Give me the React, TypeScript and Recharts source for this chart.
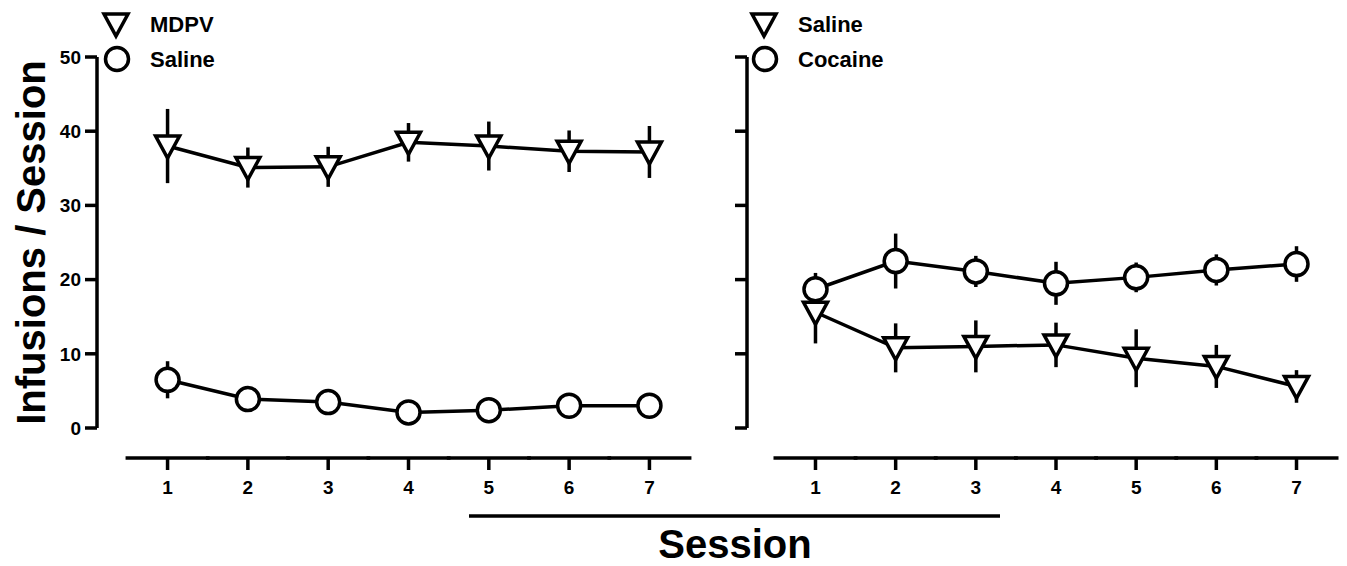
import { ErrorBar, Legend, Line, LineChart, XAxis, YAxis } from "recharts";

const FONT = '"Liberation Sans", Arial, Helvetica, sans-serif';
const INK = "#000";
const SW = 3.5;

// sessions on the x axis
const sessions = [1, 2, 3, 4, 5, 6, 7];
const sessionTicks = [1, 2, 3, 4, 5, 6, 7];
const yTicks = [0, 10, 20, 30, 40, 50];

// left panel: MDPV vs saline (mean, SEM)
const mdpvMean = [38.0, 35.1, 35.2, 38.5, 38.0, 37.3, 37.2];
const mdpvSem = [5.0, 2.7, 2.7, 2.6, 3.3, 2.8, 3.5];
const salineLeftMean = [6.5, 3.9, 3.5, 2.1, 2.4, 3.0, 3.0];
const salineLeftSem = [2.5, 0.8, 0.8, 0.6, 0.7, 0.7, 0.6];

// right panel: saline vs cocaine
const salineRightMean = [15.6, 10.8, 11.0, 11.2, 9.4, 8.3, 5.6];
const salineRightSem = [4.2, 3.3, 3.5, 3.0, 3.9, 2.9, 2.2];
const cocaineMean = [18.7, 22.5, 21.1, 19.5, 20.3, 21.3, 22.1];
const cocaineSem = [2.2, 3.7, 2.1, 2.9, 2.0, 2.1, 2.4];

const leftData = sessions.map((s, i) => ({
  session: s,
  tri: mdpvMean[i],
  triErr: mdpvSem[i],
  circ: salineLeftMean[i],
  circErr: salineLeftSem[i],
}));

const rightData = sessions.map((s, i) => ({
  session: s,
  tri: salineRightMean[i],
  triErr: salineRightSem[i],
  circ: cocaineMean[i],
  circErr: cocaineSem[i],
}));

function Tri({ cx, cy }: { cx: number; cy: number }) {
  return (
    <path
      d={`M${cx - 12},${cy - 10}L${cx + 12},${cy - 10}L${cx},${cy + 12}Z`}
      fill="#fff"
      stroke={INK}
      strokeWidth={SW}
    />
  );
}

function Circ({ cx, cy }: { cx: number; cy: number }) {
  return <circle cx={cx} cy={cy} r={11.5} fill="#fff" stroke={INK} strokeWidth={SW} />;
}

const triDot = (p: any) =>
  p.cx == null ? <g key={`t${p.index}`} /> : <Tri key={`t${p.index}`} cx={p.cx} cy={p.cy} />;
const circDot = (p: any) =>
  p.cx == null ? <g key={`c${p.index}`} /> : <Circ key={`c${p.index}`} cx={p.cx} cy={p.cy} />;

// offset x axis (Prism style): line + tick + label drawn per tick
function SessionTick(props: any) {
  const { x, y, payload } = props;
  return (
    <g>
      <line x1={x - 42} x2={x + 42} y1={y + 30} y2={y + 30} stroke={INK} strokeWidth={SW} />
      <line x1={x} x2={x} y1={y + 30} y2={y + 42} stroke={INK} strokeWidth={SW} />
      <text
        x={x}
        y={y + 66}
        textAnchor="middle"
        fontFamily={FONT}
        fontWeight="bold"
        fontSize={19}
        fill={INK}
      >
        {payload.value}
      </text>
    </g>
  );
}

function CountTick(props: any) {
  const { x, y, payload, show } = props;
  if (!show) return <g />;
  return (
    <text
      x={x}
      y={y}
      dy="0.36em"
      textAnchor="end"
      fontFamily={FONT}
      fontWeight="bold"
      fontSize={19}
      fill={INK}
    >
      {payload.value}
    </text>
  );
}

const legendOrder = ["tri", "circ"];

function PanelLegend(props: any) {
  const items = [...(props.payload || [])].sort(
    (a: any, b: any) => legendOrder.indexOf(a.dataKey) - legendOrder.indexOf(b.dataKey)
  );
  return (
    <svg width={220} height={80} style={{ overflow: "visible" }}>
      {items.map((it: any, i: number) => {
        const cy = 20 + i * 35;
        return (
          <g key={it.dataKey}>
            {it.dataKey === "tri" ? <Tri cx={20} cy={cy} /> : <Circ cx={21} cy={cy} />}
            <text
              x={54}
              y={cy + 8}
              fontFamily={FONT}
              fontWeight="bold"
              fontSize={22}
              fill={INK}
            >
              {it.value}
            </text>
          </g>
        );
      })}
    </svg>
  );
}

function Panel({
  data,
  triName,
  circName,
  width,
  yWidth,
  padLeft,
  right,
  showYLabels,
  legendLeft,
}: {
  data: typeof leftData;
  triName: string;
  circName: string;
  width: number;
  yWidth: number;
  padLeft: number;
  right: number;
  showYLabels: boolean;
  legendLeft: number;
}) {
  return (
    <LineChart
      width={width}
      height={566}
      data={data}
      margin={{ top: 57, right, bottom: 58, left: 0 }}
    >
      <XAxis
        dataKey="session"
        type="number"
        domain={[0.47, 7.53]}
        ticks={sessionTicks}
        interval={0}
        allowDataOverflow
        axisLine={false}
        tickLine={false}
        tickSize={0}
        tickMargin={0}
        height={80}
        padding={{ left: padLeft, right: 0 }}
        tick={<SessionTick />}
      />
      <YAxis
        type="number"
        domain={[0, 50]}
        ticks={yTicks}
        interval={0}
        allowDataOverflow
        tickSize={12}
        tickMargin={4}
        axisLine={{ stroke: INK, strokeWidth: SW }}
        tickLine={{ stroke: INK, strokeWidth: SW }}
        width={yWidth}
        tick={<CountTick show={showYLabels} />}
        label={
          showYLabels
            ? {
                content: (p: any) => {
                  const vb = p.viewBox || { x: 0, y: 57, height: 371 };
                  const cy = vb.y + vb.height / 2;
                  const x = vb.x + 45;
                  return (
                    <text
                      x={x}
                      y={cy}
                      transform={`rotate(-90, ${x}, ${cy})`}
                      textAnchor="middle"
                      fontFamily={FONT}
                      fontWeight="bold"
                      fontSize={40}
                      fill={INK}
                    >
                      Infusions / Session
                    </text>
                  );
                },
              }
            : undefined
        }
      />
      <Legend
        layout="horizontal"
        verticalAlign="middle"
        align="center"
        wrapperStyle={{ left: legendLeft, top: 4, width: 220, height: 80 }}
        content={<PanelLegend />}
      />
      <Line
        dataKey="tri"
        name={triName}
        type="linear"
        stroke={INK}
        strokeWidth={SW}
        dot={triDot}
        activeDot={false}
        isAnimationActive={false}
      >
        <ErrorBar dataKey="triErr" direction="y" width={0} stroke={INK} strokeWidth={SW} isAnimationActive={false} />
      </Line>
      <Line
        dataKey="circ"
        name={circName}
        type="linear"
        stroke={INK}
        strokeWidth={SW}
        dot={circDot}
        activeDot={false}
        isAnimationActive={false}
      >
        <ErrorBar dataKey="circErr" direction="y" width={0} stroke={INK} strokeWidth={SW} isAnimationActive={false} />
      </Line>
    </LineChart>
  );
}

export default function App() {
  return (
    <div
      style={{
        position: "absolute",
        left: 0,
        top: 0,
        width: 1347,
        height: 566,
        background: "#fff",
        overflow: "hidden",
      }}
    >
      <div style={{ position: "absolute", left: 0, top: 0 }}>
        <Panel
          data={leftData}
          triName="MDPV"
          circName="Saline"
          width={720}
          yWidth={97}
          padLeft={28}
          right={28}
          showYLabels
          legendLeft={96}
        />
      </div>
      <div style={{ position: "absolute", left: 700, top: 0 }}>
        <Panel
          data={rightData}
          triName="Saline"
          circName="Cocaine"
          width={647}
          yWidth={47}
          padLeft={26}
          right={8}
          showYLabels={false}
          legendLeft={44}
        />
      </div>
      <svg
        width={1347}
        height={566}
        style={{ position: "absolute", left: 0, top: 0, pointerEvents: "none" }}
      >
        <line x1={469} x2={1000} y1={516} y2={516} stroke={INK} strokeWidth={SW} />
        <text
          x={735}
          y={558}
          textAnchor="middle"
          fontFamily={FONT}
          fontWeight="bold"
          fontSize={40}
          fill={INK}
        >
          Session
        </text>
      </svg>
    </div>
  );
}
